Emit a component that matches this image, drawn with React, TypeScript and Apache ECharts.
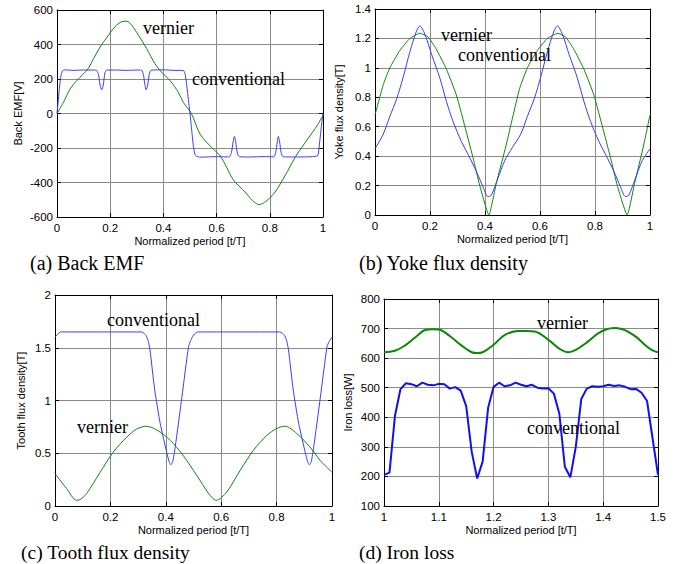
import React, { useEffect, useRef } from "react";
import * as echarts from "echarts";

// ---------- data ----------
const xAxisName = "Normalized period [t/T]";
const yNames = ["Back EMF[V]", "Yoke flux density[T]", "Tooth flux density[T]", "Iron loss[W]"];
const captions = ["(a) Back EMF", "(b) Yoke flux density", "(c) Tooth flux density", "(d) Iron loss"];
const labelVernier = "vernier";
const labelConventional = "conventional";

// (a) Back EMF
const emfConventional: number[][] = [
  [0, 0], [0.005, 80], [0.01, 160], [0.015, 220], [0.02, 245], [0.03, 253], [0.06, 250], [0.1, 252], [0.14, 252],
  [0.149, 250], [0.156, 225], [0.162, 165], [0.168, 138], [0.174, 165], [0.18, 235], [0.186, 251], [0.22, 252],
  [0.26, 250], [0.3, 252], [0.318, 251], [0.325, 225], [0.33, 170], [0.335, 138], [0.341, 165], [0.347, 230],
  [0.354, 251], [0.4, 253], [0.44, 250], [0.475, 249], [0.482, 225], [0.488, 162], [0.494, 80], [0.5, 0],
  [0.506, -90], [0.512, -180], [0.518, -235], [0.524, -248], [0.54, -253], [0.6, -250], [0.64, -252],
  [0.649, -250], [0.656, -225], [0.662, -165], [0.667, -133], [0.672, -165], [0.678, -230], [0.685, -250],
  [0.72, -252], [0.78, -250], [0.815, -251], [0.822, -228], [0.828, -165], [0.832, -133], [0.837, -165],
  [0.843, -230], [0.85, -251], [0.9, -252], [0.96, -250], [0.98, -245], [0.985, -200], [0.99, -130],
  [0.995, -60], [1, 0],
];
const emfVernier: number[][] = [
  [0, 0], [0.024, 64], [0.049, 142], [0.074, 190], [0.099, 229], [0.118, 262], [0.137, 317], [0.162, 385],
  [0.187, 440], [0.218, 503], [0.243, 532], [0.262, 535], [0.281, 512], [0.306, 454], [0.337, 376],
  [0.368, 289], [0.393, 240], [0.425, 191], [0.456, 123], [0.475, 64], [0.505, 0], [0.538, -120],
  [0.575, -187], [0.613, -245], [0.638, -313], [0.663, -385], [0.707, -455], [0.735, -505], [0.759, -528],
  [0.785, -510], [0.82, -455], [0.857, -361], [0.895, -255], [0.93, -175], [0.96, -110], [0.98, -65], [1, -10],
];

// (b) Yoke flux density
const yokeConventional: number[][] = [
  [0, 0.45], [0.03, 0.55], [0.054, 0.67], [0.079, 0.79], [0.103, 0.94], [0.127, 1.11], [0.151, 1.25],
  [0.163, 1.285], [0.181, 1.23], [0.206, 1.09], [0.236, 0.93], [0.26, 0.77], [0.284, 0.635], [0.314, 0.5],
  [0.339, 0.41], [0.369, 0.295], [0.393, 0.19], [0.411, 0.125], [0.423, 0.135], [0.447, 0.25], [0.472, 0.37],
  [0.5, 0.46], [0.53, 0.55], [0.554, 0.67], [0.579, 0.79], [0.603, 0.94], [0.627, 1.11], [0.651, 1.25],
  [0.663, 1.285], [0.681, 1.23], [0.706, 1.09], [0.736, 0.93], [0.76, 0.77], [0.784, 0.635], [0.814, 0.5],
  [0.839, 0.41], [0.869, 0.295], [0.893, 0.19], [0.911, 0.125], [0.923, 0.135], [0.947, 0.25], [0.972, 0.37],
  [1, 0.45],
];
const yokeVernier: number[][] = [
  [0, 0.68], [0.03, 0.885], [0.054, 1.0], [0.091, 1.12], [0.127, 1.2], [0.163, 1.235], [0.193, 1.21],
  [0.222, 1.13], [0.26, 0.99], [0.296, 0.815], [0.332, 0.565], [0.357, 0.385], [0.381, 0.2], [0.414, 0],
  [0.441, 0.215], [0.477, 0.475], [0.5, 0.66], [0.526, 0.86], [0.554, 1.0], [0.591, 1.12], [0.627, 1.2],
  [0.665, 1.235], [0.693, 1.21], [0.722, 1.13], [0.76, 0.99], [0.796, 0.815], [0.832, 0.565], [0.857, 0.385],
  [0.881, 0.2], [0.917, 0], [0.944, 0.215], [0.977, 0.475], [1, 0.68],
];

// (c) Tooth flux density
const toothConventional: number[][] = [
  [0, 1.6], [0.01, 1.63], [0.02, 1.65], [0.1, 1.65], [0.2, 1.65], [0.31, 1.65], [0.32, 1.64], [0.33, 1.61],
  [0.337, 1.56], [0.343, 1.48], [0.36, 1.1], [0.38, 0.78], [0.404, 0.5], [0.412, 0.42], [0.418, 0.39],
  [0.425, 0.42], [0.434, 0.56], [0.458, 1.03], [0.482, 1.51], [0.49, 1.57], [0.5, 1.62], [0.51, 1.645],
  [0.518, 1.65], [0.6, 1.65], [0.7, 1.65], [0.81, 1.65], [0.82, 1.64], [0.83, 1.61], [0.837, 1.56],
  [0.843, 1.48], [0.86, 1.1], [0.88, 0.78], [0.904, 0.5], [0.912, 0.42], [0.918, 0.39], [0.925, 0.42],
  [0.934, 0.56], [0.958, 1.03], [0.982, 1.51], [0.99, 1.56], [1, 1.6],
];
const toothVernier: number[][] = [
  [0, 0.307], [0.042, 0.165], [0.078, 0.054], [0.09, 0.06], [0.114, 0.117], [0.163, 0.32], [0.21, 0.51],
  [0.26, 0.655], [0.295, 0.73], [0.33, 0.756], [0.38, 0.7], [0.428, 0.59], [0.476, 0.43], [0.524, 0.24],
  [0.56, 0.1], [0.582, 0.054], [0.62, 0.133], [0.669, 0.34], [0.717, 0.53], [0.765, 0.67], [0.8, 0.734],
  [0.83, 0.756], [0.873, 0.687], [0.92, 0.56], [0.958, 0.43], [1, 0.32],
];

// (d) Iron loss
const lossX = [
  1.0, 1.01, 1.02, 1.03, 1.04, 1.05, 1.06, 1.07, 1.08, 1.09, 1.1, 1.11, 1.12, 1.13, 1.14, 1.15, 1.16, 1.17,
  1.18, 1.19, 1.2, 1.21, 1.22, 1.23, 1.24, 1.25, 1.26, 1.27, 1.28, 1.29, 1.3, 1.31, 1.32, 1.33, 1.34, 1.35,
  1.36, 1.37, 1.38, 1.39, 1.4, 1.41, 1.42, 1.43, 1.44, 1.45, 1.46, 1.47, 1.48, 1.49, 1.5,
];
const lossConventional = [
  205, 213, 405, 495, 515, 512, 505, 517, 510, 508, 513, 512, 497, 502, 490, 438, 284, 193, 250, 432,
  503, 517, 505, 508, 517, 510, 505, 510, 500, 497, 498, 480, 412, 233, 197, 300, 462, 497, 505, 503,
  505, 510, 506, 508, 503, 495, 496, 483, 455, 330, 205,
];
const lossVernierX = [
  1.0, 1.02, 1.04, 1.06, 1.075, 1.09, 1.1, 1.12, 1.14, 1.16, 1.17, 1.18, 1.2, 1.22, 1.245, 1.26, 1.275, 1.3,
  1.32, 1.336, 1.35, 1.372, 1.39, 1.405, 1.42, 1.435, 1.445, 1.46, 1.476, 1.49, 1.5,
];
const lossVernier = [
  620, 625, 645, 675, 695, 698, 697, 675, 645, 620, 617, 620, 645, 678, 692, 692, 690, 662,
  632, 620, 628, 656, 683, 697, 702, 698, 690, 672, 645, 626, 620,
];

// ---------- styling ----------
const BLUE = "#3a3aff";
const BLUE_D = "#1010f0";
const GREEN = "#0b870b";
const GRID_C = "#8a8a8a";
const SANS = "'Liberation Sans', Arial, sans-serif";
const SERIF = "'Liberation Serif', 'Times New Roman', serif";

const grids = [
  { left: 57, top: 10, width: 266, height: 207 },
  { left: 375, top: 9, width: 275, height: 206 },
  { left: 55, top: 295, width: 277, height: 211 },
  { left: 384, top: 299, width: 274, height: 207 },
];
const xRanges = [
  [0, 1, 0.2],
  [0, 1, 0.2],
  [0, 1, 0.2],
  [1, 1.5, 0.1],
];
const yRanges = [
  [-600, 600, 200],
  [0, 1.4, 0.2],
  [0, 2, 0.5],
  [100, 800, 100],
];
const yNameGaps = [34, 31, 29, 31];

export default function App() {
  const ref = useRef<HTMLDivElement>(null);
  useEffect(() => {
    if (!ref.current) return;
    const chart = echarts.init(ref.current, undefined, { renderer: "svg" });

    const xAxes: any[] = [];
    const yAxes: any[] = [];
    grids.forEach((_, i) => {
      const [xmin, xmax, xint] = xRanges[i];
      const [ymin, ymax, yint] = yRanges[i];
      const line = { show: true, onZero: false, lineStyle: { color: "#000", width: 1 } };
      const tick = { show: true, inside: true, length: 4, lineStyle: { color: "#000" } };
      xAxes.push({
        type: "value", gridIndex: i, position: "bottom", min: xmin, max: xmax, interval: xint,
        axisLine: line, axisTick: tick,
        axisLabel: { color: "#000", fontSize: 11.5, fontFamily: SANS, margin: 5 },
        splitLine: { show: true, lineStyle: { color: GRID_C, width: 1 } },
        name: xAxisName, nameLocation: "middle", nameGap: 18,
        nameTextStyle: { color: "#000", fontSize: 11, fontFamily: SANS },
      });
      xAxes.push({
        type: "value", gridIndex: i, position: "top", min: xmin, max: xmax, interval: xint,
        axisLine: line, axisTick: tick, axisLabel: { show: false }, splitLine: { show: false },
      });
      yAxes.push({
        type: "value", gridIndex: i, position: "left", min: ymin, max: ymax, interval: yint,
        axisLine: line, axisTick: tick,
        axisLabel: { color: "#000", fontSize: 11.5, fontFamily: SANS, margin: 4 },
        splitLine: { show: true, lineStyle: { color: GRID_C, width: 1 } },
        name: yNames[i], nameLocation: "middle", nameGap: yNameGaps[i],
        nameTextStyle: { color: "#000", fontSize: 11, fontFamily: SANS },
      });
      yAxes.push({
        type: "value", gridIndex: i, position: "right", min: ymin, max: ymax, interval: yint,
        axisLine: line, axisTick: tick, axisLabel: { show: false }, splitLine: { show: false },
      });
    });

    const mk = (i: number, data: number[][], color: string, width: number, smooth: number | boolean) => ({
      type: "line", xAxisIndex: 2 * i, yAxisIndex: 2 * i, data, showSymbol: false, symbol: "none",
      smooth, lineStyle: { color, width }, itemStyle: { color }, z: 3,
    });

    const zip = (xs: number[], ys: number[]) => xs.map((x, k) => [x, ys[k]]);

    const series = [
      mk(0, emfVernier, GREEN, 1, 0.3),
      mk(0, emfConventional, BLUE, 1, 0.2),
      mk(1, yokeVernier, GREEN, 1, 0.15),
      mk(1, yokeConventional, BLUE, 1, 0.3),
      mk(2, toothConventional, BLUE, 1, 0.2),
      mk(2, toothVernier, GREEN, 1, 0.3),
      mk(3, zip(lossVernierX, lossVernier), GREEN, 2, 0.4),
      mk(3, zip(lossX, lossConventional), BLUE_D, 2, false),
    ];

    const txt = (text: string, x: number, y: number, size: number) => ({
      type: "text", x, y, z: 10,
      style: { text, fill: "#000", font: `${size}px ${SERIF}`, verticalAlign: "middle", align: "left" },
    });

    const graphic = [
      txt(captions[0], 30, 263, 20),
      txt(captions[1], 359, 263, 20),
      txt(captions[2], 21, 552, 19.5),
      txt(captions[3], 359, 552, 19.5),
      txt(labelVernier, 143, 28, 18),
      txt(labelConventional, 192, 79, 18),
      txt(labelVernier, 441, 35, 18),
      txt(labelConventional, 458, 55, 18),
      txt(labelConventional, 107, 320, 18),
      txt(labelVernier, 77, 427, 18),
      txt(labelVernier, 537, 323, 18),
      txt(labelConventional, 527, 428, 18),
    ];

    chart.setOption({
      animation: false,
      backgroundColor: "#fff",
      grid: grids.map((g) => ({ ...g, containLabel: false, outerBoundsMode: "none" })),
      xAxis: xAxes,
      yAxis: yAxes,
      series,
      graphic,
    });
    return () => chart.dispose();
  }, []);
  return (
    <div
      ref={ref}
      style={{ position: "fixed", left: 0, top: 0, width: 678, height: 564, background: "#fff" }}
    />
  );
}
